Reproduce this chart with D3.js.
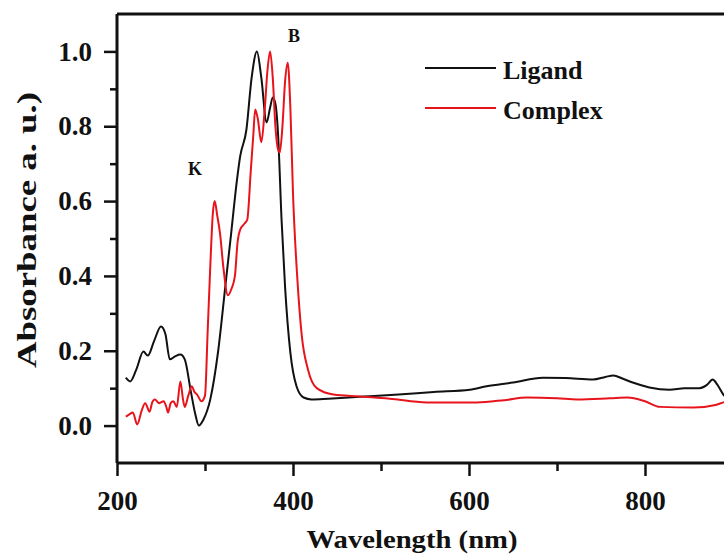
<!DOCTYPE html>
<html>
<head>
<meta charset="utf-8">
<script src="https://cdn.jsdelivr.net/npm/d3@7"></script>
<style>
  body { margin: 0; background: #fff; }
  svg text { font-family: "Liberation Serif", "Times New Roman", serif; font-weight: bold; fill: #111; }
</style>
</head>
<body>
<div class="chart"></div>
<script>
// Configuration
var width = 724;
var height = 554;
var margin = {left: 117, top: 14, bottom: 91};

// data (wavelength nm, absorbance a.u.)
var ligandWl  = [210,215,222,230,235,242,250,255,260,266,272,277,284,289,293,298,306,315,323,330,336,340,347,353,359,364,370,374,377,380,383,387,391,397,404,412,421,440,476,520,560,601,620,650,684,710,741,755,764,775,786,805,828,845,862,870,877,882,889,895];
var ligandAbs = [0.128,0.118,0.15,0.198,0.187,0.225,0.265,0.245,0.177,0.185,0.19,0.177,0.09,0.03,0.0,0.015,0.07,0.2,0.37,0.52,0.65,0.72,0.79,0.93,1.0,0.93,0.81,0.85,0.877,0.86,0.78,0.55,0.37,0.195,0.105,0.075,0.07,0.072,0.077,0.083,0.09,0.096,0.105,0.115,0.128,0.127,0.123,0.13,0.134,0.125,0.115,0.102,0.096,0.1,0.1,0.108,0.123,0.11,0.083,0.07];

var complexWl  = [210,214,218,223,228,232,237,240,243,248,253,256,258,261,264,268,272,275,277,281,285,288,291,296,300,303,306,309,311,314,317,321,326,330,334,337,340,345,348,352,355,357,360,364,368,371,374,377,380,383,385,388,391,394,397,400,405,410,417,427,446,476,510,552,609,640,666,700,723,760,780,800,817,855,880,889,895];
var complexAbs = [0.024,0.03,0.035,0.003,0.04,0.06,0.037,0.062,0.07,0.06,0.065,0.05,0.035,0.06,0.065,0.05,0.118,0.07,0.05,0.08,0.105,0.09,0.083,0.065,0.08,0.25,0.425,0.57,0.6,0.56,0.515,0.42,0.348,0.365,0.4,0.49,0.524,0.54,0.55,0.68,0.78,0.845,0.82,0.757,0.85,0.95,1.0,0.93,0.8,0.738,0.73,0.8,0.92,0.97,0.85,0.62,0.39,0.24,0.15,0.1,0.083,0.078,0.072,0.062,0.062,0.068,0.075,0.073,0.07,0.073,0.075,0.065,0.05,0.048,0.055,0.062,0.066];

var xTicks = [200, 400, 600, 800];
var xMinor = [300, 500, 700, 900];
var yTicks = [0.0, 0.2, 0.4, 0.6, 0.8, 1.0];
var yMinor = [0.1, 0.3, 0.5, 0.7, 0.9];

var seriesNames = ["Ligand", "Complex"];
var seriesColors = ["#111111", "#e8141b"];

// scales (right end of the frame is cut off by the picture)
var x = d3.scaleLinear().domain([200, 900]).range([margin.left, margin.left + 616]);
var y = d3.scaleLinear().domain([-0.1, 1.1]).range([height - margin.bottom, margin.top]);

var svg = d3.select(".chart").append("svg")
    .attr("width", width)
    .attr("height", height);

// stretch a label to a measured length
function fitText(sel, len) {
  sel.attr("textLength", len).attr("lengthAdjust", "spacingAndGlyphs");
}

// curves
var line = d3.line()
    .x(function(d) { return x(d[0]); })
    .y(function(d) { return y(d[1]); })
    .curve(d3.curveMonotoneX);

var series = [
  d3.zip(ligandWl, ligandAbs),
  d3.zip(complexWl, complexAbs)
];

svg.selectAll("path.series")
    .data(series)
    .enter().append("path")
    .attr("class", "series")
    .attr("d", line)
    .attr("fill", "none")
    .attr("stroke", function(d, i) { return seriesColors[i]; })
    .attr("stroke-width", 2)
    .attr("stroke-linejoin", "round");

// axes
var xAxis = svg.append("g")
    .attr("transform", "translate(0," + y(-0.1) + ")")
    .call(d3.axisBottom(x).tickValues(xTicks).tickSize(13).tickFormat(d3.format("d")));
svg.append("g")
    .attr("transform", "translate(0," + y(-0.1) + ")")
    .call(d3.axisBottom(x).tickValues(xMinor).tickSize(8).tickFormat(""))
    .select(".domain").remove();

var yAxis = svg.append("g")
    .attr("transform", "translate(" + x(200) + ",0)")
    .call(d3.axisLeft(y).tickValues(yTicks).tickSize(13).tickFormat(d3.format(".1f")));
svg.append("g")
    .attr("transform", "translate(" + x(200) + ",0)")
    .call(d3.axisLeft(y).tickValues(yMinor).tickSize(7).tickFormat(""))
    .select(".domain").remove();

svg.selectAll(".tick line").attr("stroke", "#111").attr("stroke-width", 2.5);
svg.selectAll(".domain").attr("stroke", "#111").attr("stroke-width", 3);

xAxis.select(".domain").attr("d", "M" + x(200) + ",0H" + x(900));
yAxis.select(".domain").attr("d", "M0," + y(-0.1) + "V" + y(1.1));

xAxis.selectAll(".tick text")
    .attr("y", 33)
    .attr("dy", "0.5em")
    .style("font-size", "27px")
    .style("font-family", "Liberation Serif");
yAxis.selectAll(".tick text")
    .attr("x", -25)
    .style("font-size", "27px")
    .style("font-family", "Liberation Serif");

// top frame line
svg.append("line")
    .attr("x1", x(200)).attr("x2", x(900))
    .attr("y1", y(1.1)).attr("y2", y(1.1))
    .attr("stroke", "#111").attr("stroke-width", 3);

// axis titles
svg.append("text")
    .attr("x", 412).attr("y", 548)
    .attr("text-anchor", "middle")
    .style("font-size", "26px")
    .text("Wavelength (nm)")
    .call(fitText, 211);

svg.append("text")
    .attr("transform", "translate(36,230) rotate(-90)")
    .attr("text-anchor", "middle")
    .style("font-size", "28px")
    .text("Absorbance a. u.)")
    .call(fitText, 276);

// band labels
svg.append("text").attr("x", 195).attr("y", 175).attr("text-anchor", "middle")
    .style("font-size", "18px").text("K");
svg.append("text").attr("x", 294).attr("y", 42).attr("text-anchor", "middle")
    .style("font-size", "18px").text("B");

// legend
var legend = svg.selectAll("g.legend")
    .data(seriesNames)
    .enter().append("g")
    .attr("class", "legend")
    .attr("transform", function(d, i) { return "translate(425," + (68 + i * 40) + ")"; });
legend.append("line")
    .attr("x1", 0).attr("x2", 71)
    .attr("stroke", function(d, i) { return seriesColors[i]; })
    .attr("stroke-width", 2);
legend.append("text")
    .attr("x", 78).attr("y", 11)
    .style("font-size", "26px")
    .text(function(d) { return d; });
</script>
</body>
</html>
